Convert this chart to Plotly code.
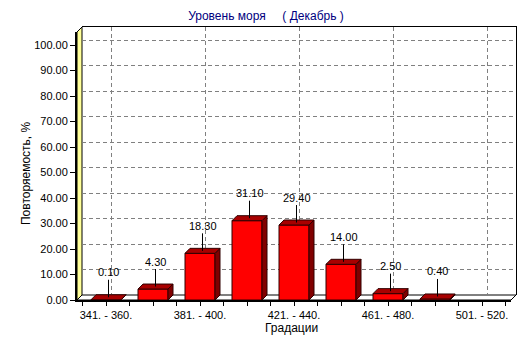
import plotly.graph_objects as go

# ---- data ---------------------------------------------------------------
categories = ["341. - 360.", "361. - 380.", "381. - 400.", "401. - 420.",
              "421. - 440.", "441. - 460.", "461. - 480.", "481. - 500.",
              "501. - 520."]
values = [0.10, 4.30, 18.30, 31.10, 29.40, 14.00, 2.50, 0.40]
y_ticks = [0, 10, 20, 30, 40, 50, 60, 70, 80, 90, 100]
y_tick_labels = [f"{t:.2f}" for t in y_ticks]

title_text = "Уровень моря\u00a0\u00a0\u00a0\u00a0\u00a0( Декабрь )"
y_title = "Повторяемость, %"
x_title = "Градации"

# ---- geometry of the pseudo-3D frame -------------------------------------
W, H = 532, 343
M_L, M_R, M_T, M_B = 77, 16, 27, 43
DEPTH = 5                      # depth offset of back plane, px
PW = W - M_L - M_R
PH = H - M_T - M_B
FRONT_W = PW - DEPTH
FRONT_H = PH - DEPTH
X_RANGE = [-0.617, len(categories) - 1 + 0.617]
Y_TOP = 105.1
PPX = FRONT_W / (X_RANGE[1] - X_RANGE[0])
PPY = FRONT_H / Y_TOP
BAR_PX = 30
HALF = BAR_PX / 2

FONT = "Liberation Sans, Arial, sans-serif"
FRONT_RED = "#ff0000"
TOP_RED = "#a80000"
SIDE_RED = "#800000"
EDGE = "#300000"
WALL = "#ffff99"


def paper_x(px):
    return (px - M_L) / PW


def paper_y(py):
    return (H - M_B - py) / PH


fig = go.Figure()

# empty trace so the back-plane subplot (grid + frame) is drawn
fig.add_trace(go.Scatter(x=[0], y=[0], mode="none", xaxis="x", yaxis="y",
                         hoverinfo="skip", showlegend=False))

# front faces of the bars
xs = list(range(len(values)))
fig.add_trace(go.Bar(
    x=xs, y=values, width=BAR_PX / PPX,
    xaxis="x2", yaxis="y2",
    marker=dict(color=FRONT_RED, line=dict(color=EDGE, width=1)),
    hoverinfo="skip", showlegend=False,
))

shapes = []
# left wall and floor of the box
shapes.append(dict(
    type="path", xref="paper", yref="paper", xsizemode="pixel", ysizemode="pixel",
    xanchor=0, yanchor=0,
    path=f"M 0,0 L 0,{FRONT_H} L {DEPTH},{FRONT_H + DEPTH} L {DEPTH},{DEPTH} Z",
    fillcolor=WALL, line=dict(color="black", width=1), layer="below",
))
shapes.append(dict(
    type="path", xref="paper", yref="paper", xsizemode="pixel", ysizemode="pixel",
    xanchor=0, yanchor=0,
    path=f"M 0,0 L {FRONT_W},0 L {FRONT_W + DEPTH},{DEPTH} L {DEPTH},{DEPTH} Z",
    fillcolor="white", line=dict(color="black", width=1), layer="below",
))

# top and right side faces of each bar
for i, v in zip(xs, values):
    vp = v * PPY
    shapes.append(dict(
        type="path", xref="x2", yref="y2", xsizemode="pixel", ysizemode="pixel",
        xanchor=i, yanchor=0,
        path=(f"M {HALF},0 L {HALF + DEPTH},{DEPTH} L {HALF + DEPTH},{vp + DEPTH} "
              f"L {HALF},{vp} Z"),
        fillcolor=SIDE_RED, line=dict(color=EDGE, width=1), layer="above",
    ))
    shapes.append(dict(
        type="path", xref="x2", yref="y2", xsizemode="pixel", ysizemode="pixel",
        xanchor=i, yanchor=v,
        path=(f"M {-HALF},0 L {HALF},0 L {HALF + DEPTH},{DEPTH} "
              f"L {-HALF + DEPTH},{DEPTH} Z"),
        fillcolor=TOP_RED, line=dict(color=EDGE, width=1), layer="above",
    ))

# value labels with leader lines
annotations = []
for i, v in zip(xs, values):
    annotations.append(dict(
        x=i, y=v, xref="x2", yref="y2", text=f"{v:.2f}",
        showarrow=True, arrowhead=0, arrowwidth=1, arrowcolor="black",
        ax=0, ay=-25, xshift=DEPTH / 2, yshift=DEPTH / 2, standoff=0,
        font=dict(family=FONT, size=11, color="black"),
    ))

annotations.append(dict(
    x=paper_x(26), y=paper_y(174), xref="paper", yref="paper",
    xanchor="center", yanchor="middle",
    text=y_title, textangle=-90, showarrow=False,
    font=dict(family=FONT, size=12, color="black"),
))
annotations.append(dict(
    x=paper_x(291.5), y=paper_y(328), xref="paper", yref="paper",
    xanchor="center", yanchor="middle",
    text=x_title, showarrow=False,
    font=dict(family=FONT, size=12, color="black"),
))

tick_vals_x = [k / 2 for k in range(-1, 2 * len(categories))]
tick_text_x = []
for t in tick_vals_x:
    if t == int(t) and int(t) % 2 == 0 and 0 <= int(t) < len(categories):
        tick_text_x.append(categories[int(t)])
    else:
        tick_text_x.append("")

grid_dash = "4px,3px"

fig.update_layout(
    width=W, height=H,
    margin=dict(l=M_L, r=M_R, t=M_T, b=M_B, pad=0),
    paper_bgcolor="white", plot_bgcolor="rgba(0,0,0,0)",
    title=dict(text=title_text, x=0.5, xref="container", xanchor="center",
               y=1 - 16 / H, yref="container", yanchor="middle",
               font=dict(family=FONT, size=12, color="#000080")),
    font=dict(family=FONT, size=11, color="black"),
    showlegend=False,
    # back plane: grid and frame
    xaxis=dict(domain=[DEPTH / PW, 1], range=X_RANGE, side="top",
               tickvals=[0, 2, 4, 6, 8], showticklabels=False, ticks="",
               showgrid=True, gridcolor="#808080", gridwidth=1, griddash=grid_dash,
               showline=True, linecolor="black", linewidth=1,
               zeroline=False, fixedrange=True, automargin=False),
    yaxis=dict(domain=[DEPTH / PH, 1], range=[0, Y_TOP], side="right",
               tickvals=y_ticks[1:], showticklabels=False, ticks="",
               showgrid=True, gridcolor="#808080", gridwidth=1, griddash=grid_dash,
               showline=True, linecolor="black", linewidth=1,
               zeroline=False, fixedrange=True, automargin=False),
    # front plane: bars, ticks, labels
    xaxis2=dict(domain=[0, FRONT_W / PW], range=X_RANGE, anchor="y2",
                tickvals=tick_vals_x, ticktext=tick_text_x,
                ticks="outside", ticklen=4, tickcolor="black", tickwidth=1,
                showgrid=False, zeroline=False,
                showline=True, linecolor="black", linewidth=2,
                tickfont=dict(family=FONT, size=11, color="black"),
                fixedrange=True, automargin=False),
    yaxis2=dict(domain=[0, FRONT_H / PH], range=[0, Y_TOP], anchor="x2",
                tickvals=y_ticks, ticktext=y_tick_labels,
                ticks="outside", ticklen=5, tickcolor="black", tickwidth=1,
                showgrid=False, zeroline=False,
                showline=True, linecolor="black", linewidth=2,
                tickfont=dict(family=FONT, size=11, color="black"),
                fixedrange=True, automargin=False),
    shapes=shapes,
    annotations=annotations,
)

fig.write_html("out.html", config={"displayModeBar": False})
